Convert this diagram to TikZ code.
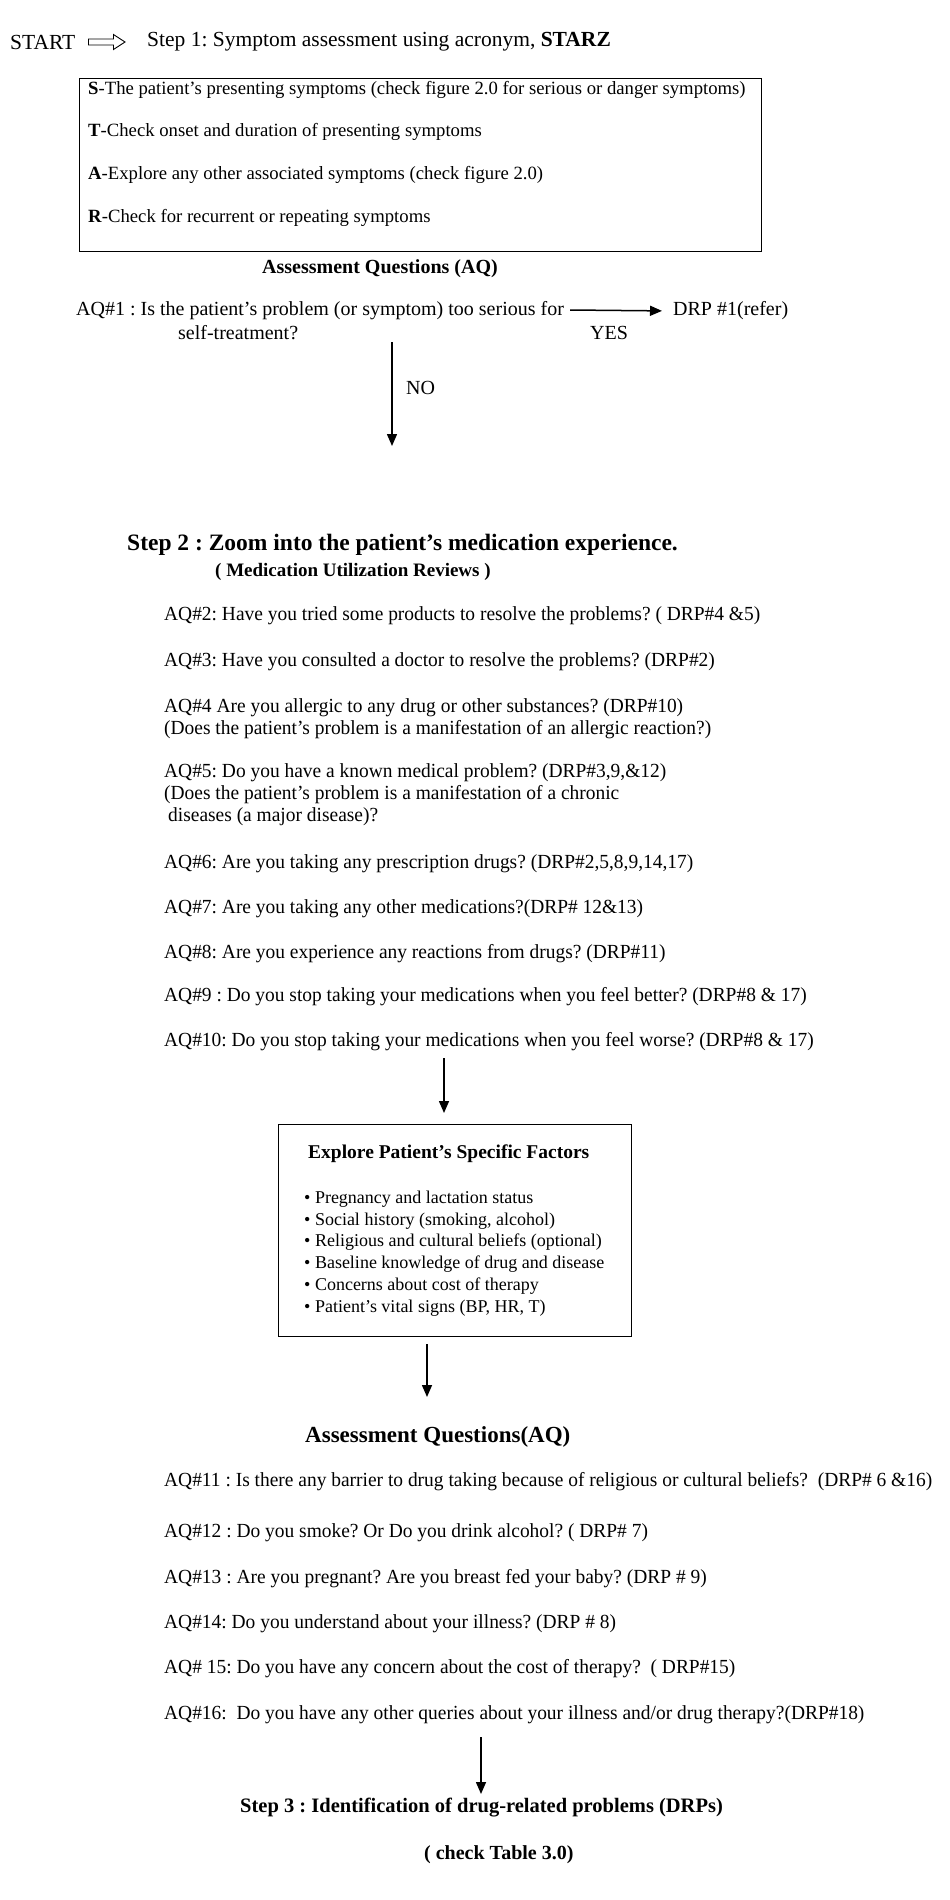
\documentclass[tikz,border=0pt]{standalone}
\usepackage{fontspec}
\setmainfont{Liberation Serif}
\newfontfamily\aqfont[FakeStretch=0.972]{Liberation Serif}
\usetikzlibrary{arrows.meta,calc}
\frenchspacing
\begin{document}
\begin{tikzpicture}[x=1pt,y=-1pt,
  plain/.style={anchor=west,inner sep=0pt,font=\fontsize{20}{23}\selectfont},
  txt/.style={anchor=west,inner sep=0pt,font=\aqfont\fontsize{20}{23}\selectfont},
  boxtxt/.style={anchor=west,inner sep=0pt,font=\fontsize{18.7}{22}\selectfont},
  bul/.style={anchor=west,inner sep=0pt,font=\fontsize{18}{21}\selectfont},
  hdr/.style={anchor=west,inner sep=0pt,font=\fontsize{21}{24}\selectfont\bfseries},
  frame/.style={draw,line width=1pt},
  arr/.style={draw,line width=1.5pt,-{Triangle[length=12pt,width=10pt]}}
]
\useasboundingbox (0,0) rectangle (950,1900);

% Step 1
\node[plain,font=\fontsize{21.5}{25}\selectfont] (start) at (10,42) {START};
\node[plain,font=\fontsize{21.5}{25}\selectfont] (step1) at (147,42) {Step 1: Symptom assessment using acronym, \textbf{STARZ}};
\draw[line width=0.9pt] ($(start.east)+(13,-3)$) -- ($(start.east)+(38,-3)$) -- ($(start.east)+(38,-7.5)$)
  -- ($(step1.west)+(-22,0)$) -- ($(start.east)+(38,7.5)$) -- ($(start.east)+(38,3)$) -- ($(start.east)+(13,3)$) -- cycle;

\node[frame,minimum width=682pt,minimum height=173pt,anchor=north west,inner sep=0pt] (box1) at (79,78) {};
\node[boxtxt] (s) at (88,90) {\textbf{S}-The patient’s presenting symptoms (check figure 2.0 for serious or danger symptoms)};
\node[boxtxt] (t) at (88,132) {\textbf{T}-Check onset and duration of presenting symptoms};
\node[boxtxt] (a) at (88,175) {\textbf{A}-Explore any other associated symptoms (check figure 2.0)};
\node[boxtxt] (r) at (88,218) {\textbf{R}-Check for recurrent or repeating symptoms};

\node[hdr,font=\fontsize{20}{24}\selectfont\bfseries] (aqh1) at (262,269) {Assessment Questions (AQ)};
\node[plain] (aq1) at (76,311) {AQ\#1 : Is the patient’s problem (or symptom) too serious for};
\node[plain] (aq1b) at (178,333) {self-treatment?};
\node[plain] (drp1) at (673,311) {DRP \#1(refer)};
\node[plain] (yes) at (590,333) {YES};
\coordinate (yesstart) at (570,310);
\draw[arr,shorten >=11pt] (yesstart) -- (drp1.west);
\coordinate (nostart) at (392,342);
\coordinate (noend) at (392,446);
\draw[arr] (nostart) -- (noend);
\node[plain] (no) at (406,388) {NO};

% Step 2
\node[hdr,font=\fontsize{23.5}{27}\selectfont\bfseries] (step2) at (127,545) {Step 2 : Zoom into the patient’s medication experience.};
\node[hdr,font=\fontsize{19}{22}\selectfont\bfseries] (mur) at (215,572) {( Medication Utilization Reviews )};

\node[txt] (aq2) at (164,616) {AQ\#2: Have you tried some products to resolve the problems? ( DRP\#4 \&5)};
\node[txt] (aq3) at (164,662) {AQ\#3: Have you consulted a doctor to resolve the problems? (DRP\#2)};
\node[txt] (aq4) at (164,708) {AQ\#4 Are you allergic to any drug or other substances? (DRP\#10)};
\node[txt] (aq4b) at (164,730) {(Does the patient’s problem is a manifestation of an allergic reaction?)};
\node[txt] (aq5) at (164,773) {AQ\#5: Do you have a known medical problem? (DRP\#3,9,\&12)};
\node[txt] (aq5b) at (164,795) {(Does the patient’s problem is a manifestation of a chronic};
\node[txt] (aq5c) at (168,817) {diseases (a major disease)?};
\node[txt] (aq6) at (164,864) {AQ\#6: Are you taking any prescription drugs? (DRP\#2,5,8,9,14,17)};
\node[txt] (aq7) at (164,909) {AQ\#7: Are you taking any other medications?(DRP\# 12\&13)};
\node[txt] (aq8) at (164,954) {AQ\#8: Are you experience any reactions from drugs? (DRP\#11)};
\node[txt] (aq9) at (164,997) {AQ\#9 : Do you stop taking your medications when you feel better? (DRP\#8 \& 17)};
\node[txt] (aq10) at (164,1042) {AQ\#10: Do you stop taking your medications when you feel worse? (DRP\#8 \& 17)};

% Box 2
\node[frame,minimum width=353pt,minimum height=212pt,anchor=north west,inner sep=0pt] (box2) at (278,1124) {};
\coordinate (a2s) at (444,1058);
\coordinate (a2e) at (444,1113);
\draw[arr] (a2s) -- (a2e);
\node[hdr,font=\fontsize{19.5}{23}\selectfont\bfseries] (expl) at (308,1154) {Explore Patient’s Specific Factors};
\node[bul] (b1) at (304,1199) {• Pregnancy and lactation status};
\node[bul] (b2) at (304,1221) {• Social history (smoking, alcohol)};
\node[bul] (b3) at (304,1242) {• Religious and cultural beliefs (optional)};
\node[bul] (b4) at (304,1264) {• Baseline knowledge of drug and disease};
\node[bul] (b5) at (304,1286) {• Concerns about cost of therapy};
\node[bul] (b6) at (304,1308) {• Patient’s vital signs (BP, HR, T)};

\coordinate (a3e) at (427,1397);
\draw[arr] (box2.south -| a3e) ++(0,7) -- (a3e);

\node[hdr,font=\fontsize{23}{26}\selectfont\bfseries] (aqh2) at (305,1437) {Assessment Questions(AQ)};
\node[txt] (aq11) at (164,1482) {AQ\#11 : Is there any barrier to drug taking because of religious or cultural beliefs?~ (DRP\# 6 \&16)};
\node[txt] (aq12) at (164,1533) {AQ\#12 : Do you smoke? Or Do you drink alcohol? ( DRP\# 7)};
\node[txt] (aq13) at (164,1579) {AQ\#13 : Are you pregnant? Are you breast fed your baby? (DRP \# 9)};
\node[txt] (aq14) at (164,1624) {AQ\#14: Do you understand about your illness? (DRP \# 8)};
\node[txt] (aq15) at (164,1669) {AQ\# 15: Do you have any concern about the cost of therapy?~ ( DRP\#15)};
\node[txt] (aq16) at (164,1715) {AQ\#16:~ Do you have any other queries about your illness and/or drug therapy?(DRP\#18)};

\coordinate (a4s) at (481,1737);
\coordinate (a4e) at (481,1794);
\draw[arr] (a4s) -- (a4e);
\node[hdr,font=\fontsize{20.5}{24}\selectfont\bfseries] (step3) at (240,1808) {Step 3 : Identification of drug-related problems (DRPs)};
\node[hdr,font=\fontsize{20}{24}\selectfont\bfseries] (tbl) at (424,1855) {( check Table 3.0)};
\end{tikzpicture}
\end{document}
